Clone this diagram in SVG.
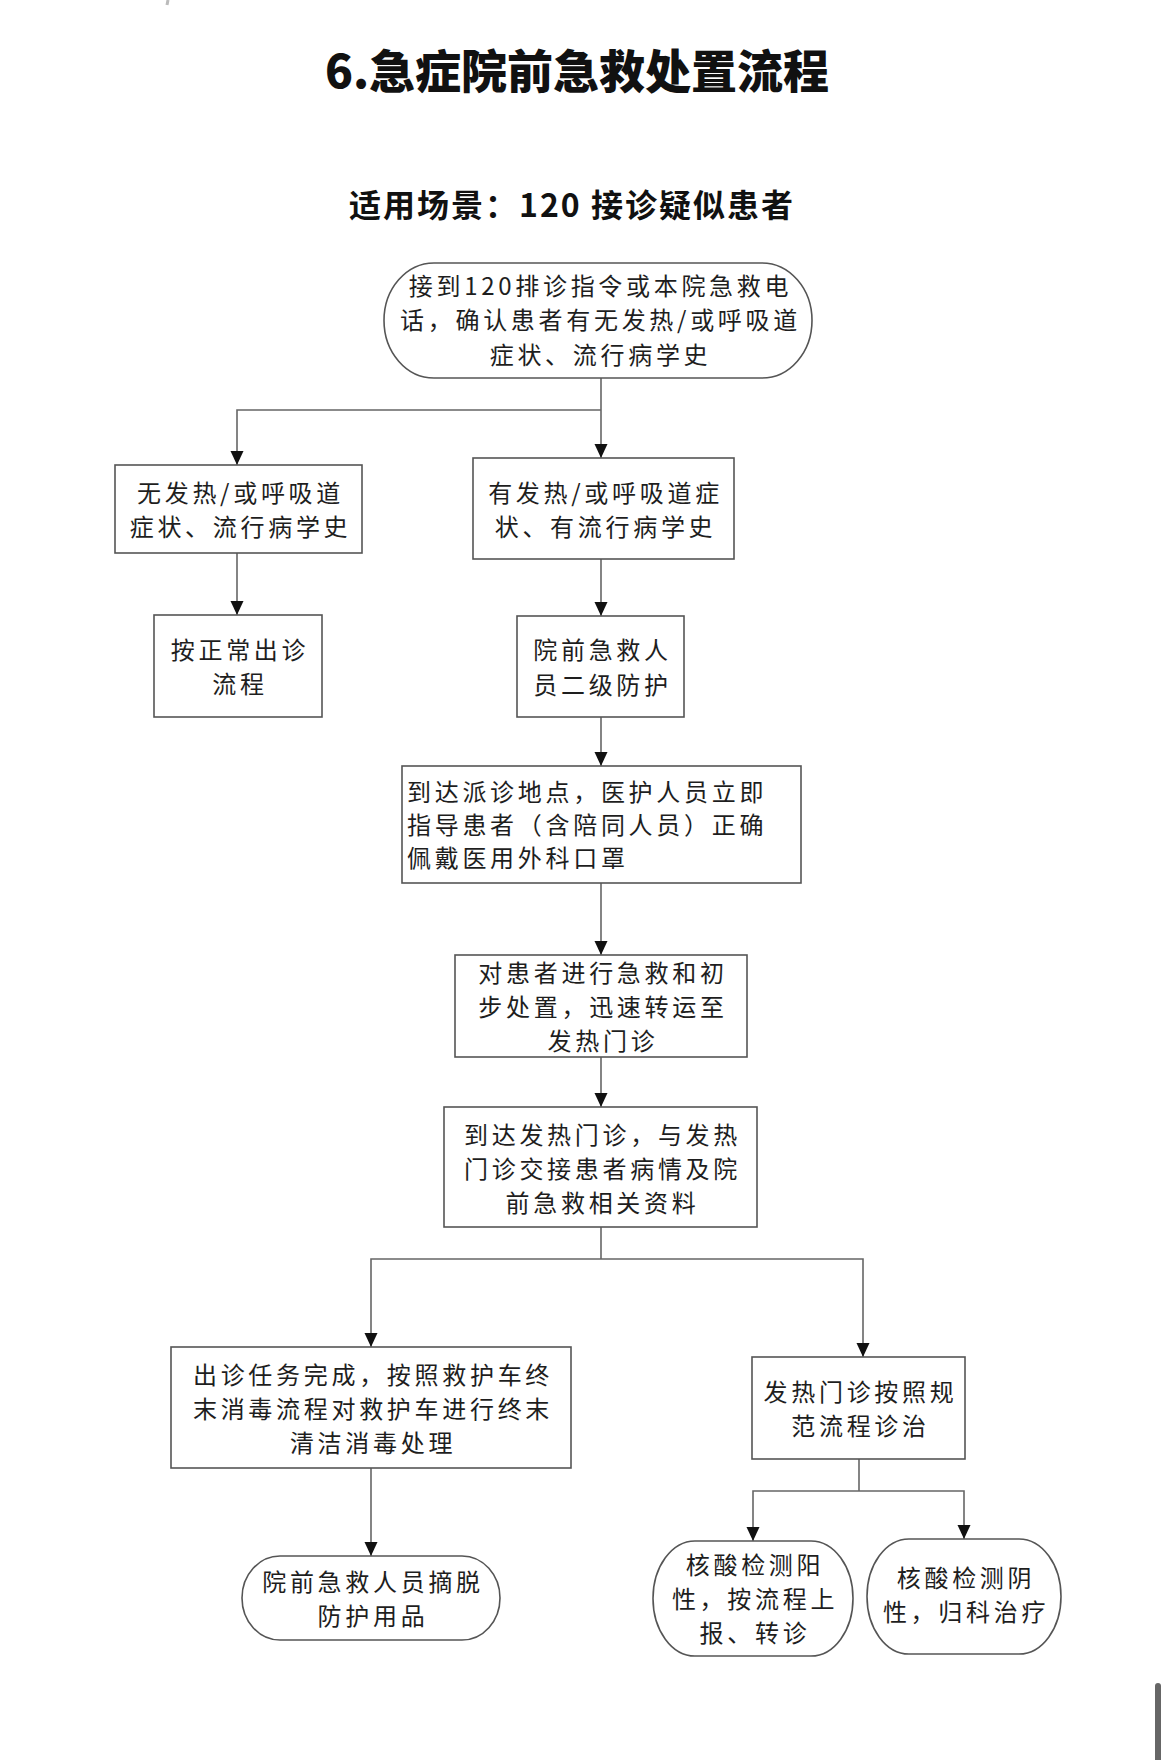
<svg xmlns="http://www.w3.org/2000/svg" width="1170" height="1760" viewBox="0 0 1170 1760">
<style>
.box{fill:#fff;stroke:#555;stroke-width:1.6}
.t{font-family:"Noto Sans CJK SC","Noto Sans",sans-serif;font-size:24px;fill:#1e1e1e;text-anchor:middle;letter-spacing:3.7px}
.tl{text-anchor:start}
.con{fill:none;stroke:#666;stroke-width:1.6}
.title{font-family:"Noto Sans CJK SC","Noto Sans",sans-serif;font-weight:900;font-size:46px;fill:#111;text-anchor:middle}
.sub{font-family:"Noto Sans CJK SC","Noto Sans",sans-serif;font-weight:700;font-size:32px;fill:#111;text-anchor:middle;letter-spacing:2px}
</style>
<defs>
<marker id="arr" markerUnits="userSpaceOnUse" markerWidth="14" markerHeight="14" refX="14" refY="6.5" orient="auto">
<path d="M0,0 L14,6.5 L0,13 z" fill="#111"/>
</marker>
</defs>
<rect width="1170" height="1760" fill="#fff"/>
<line x1="168" y1="0" x2="167" y2="5" stroke="#bbb" stroke-width="3"/>
<rect x="1155" y="1683" width="6" height="80" rx="3" fill="#666"/>

<text class="title" x="577" y="88">6.急症院前急救处置流程</text>
<text class="sub" x="572" y="217">适用场景：120 接诊疑似患者</text>

<g id="connectors">
<path class="con" d="M601,378 V458" marker-end="url(#arr)"/>
<path class="con" d="M601,410 H237 V465" marker-end="url(#arr)"/>
<path class="con" d="M237,553 V615" marker-end="url(#arr)"/>
<path class="con" d="M601,559 V616" marker-end="url(#arr)"/>
<path class="con" d="M601,717 V766" marker-end="url(#arr)"/>
<path class="con" d="M601,883 V955" marker-end="url(#arr)"/>
<path class="con" d="M601,1057 V1107" marker-end="url(#arr)"/>
<path class="con" d="M601,1227 V1259"/>
<path class="con" d="M601,1259 H371 V1347" marker-end="url(#arr)"/>
<path class="con" d="M601,1259 H863 V1357" marker-end="url(#arr)"/>
<path class="con" d="M371,1468 V1556" marker-end="url(#arr)"/>
<path class="con" d="M859,1459 V1491"/>
<path class="con" d="M859,1491 H753 V1541" marker-end="url(#arr)"/>
<path class="con" d="M859,1491 H964 V1539" marker-end="url(#arr)"/>
</g>

<g id="n1">
<rect class="box" x="384" y="263" width="428" height="115" rx="50" ry="57.5"/>
<text class="t" x="600.5" y="295">接到120排诊指令或本院急救电</text>
<text class="t" x="600.5" y="329">话，确认患者有无发热/或呼吸道</text>
<text class="t" x="600.5" y="364">症状、流行病学史</text>
</g>

<g id="n2">
<rect class="box" x="115" y="465" width="247" height="88"/>
<text class="t" x="240.5" y="502">无发热/或呼吸道</text>
<text class="t" x="240.5" y="536">症状、流行病学史</text>
</g>

<g id="n3">
<rect class="box" x="473" y="458" width="261" height="101"/>
<text class="t" x="605.5" y="502">有发热/或呼吸道症</text>
<text class="t" x="605.5" y="536">状、有流行病学史</text>
</g>

<g id="n4">
<rect class="box" x="154" y="615" width="168" height="102"/>
<text class="t" x="240" y="659">按正常出诊</text>
<text class="t" x="240" y="693">流程</text>
</g>

<g id="n5">
<rect class="box" x="517" y="616" width="167" height="101"/>
<text class="t" x="602.5" y="659">院前急救人</text>
<text class="t" x="602.5" y="694">员二级防护</text>
</g>

<g id="n6">
<rect class="box" x="402" y="766" width="399" height="117"/>
<text class="t tl" x="407" y="801">到达派诊地点，医护人员立即</text>
<text class="t tl" x="407" y="834">指导患者（含陪同人员）正确</text>
<text class="t tl" x="407" y="867">佩戴医用外科口罩</text>
</g>

<g id="n7">
<rect class="box" x="455" y="955" width="292" height="102"/>
<text class="t" x="603" y="982">对患者进行急救和初</text>
<text class="t" x="603" y="1016">步处置，迅速转运至</text>
<text class="t" x="603" y="1050">发热门诊</text>
</g>

<g id="n8">
<rect class="box" x="444" y="1107" width="313" height="120"/>
<text class="t" x="602.5" y="1144">到达发热门诊，与发热</text>
<text class="t" x="602.5" y="1178">门诊交接患者病情及院</text>
<text class="t" x="602.5" y="1212">前急救相关资料</text>
</g>

<g id="n9">
<rect class="box" x="171" y="1347" width="400" height="121"/>
<text class="t" x="373" y="1384">出诊任务完成，按照救护车终</text>
<text class="t" x="373" y="1418">末消毒流程对救护车进行终末</text>
<text class="t" x="373" y="1452">清洁消毒处理</text>
</g>

<g id="n10">
<rect class="box" x="752" y="1357" width="213" height="102"/>
<text class="t" x="860.5" y="1401">发热门诊按照规</text>
<text class="t" x="860.5" y="1435">范流程诊治</text>
</g>

<g id="n11">
<rect class="box" x="242" y="1556" width="258" height="84" rx="38" ry="42"/>
<text class="t" x="373" y="1591">院前急救人员摘脱</text>
<text class="t" x="373" y="1625">防护用品</text>
</g>

<g id="n12">
<rect class="box" x="653" y="1541" width="200" height="115" rx="42" ry="57.5"/>
<text class="t" x="755" y="1574">核酸检测阳</text>
<text class="t" x="755" y="1608">性，按流程上</text>
<text class="t" x="755" y="1642">报、转诊</text>
</g>

<g id="n13">
<rect class="box" x="867" y="1539" width="194" height="115" rx="42" ry="57.5"/>
<text class="t" x="966" y="1587">核酸检测阴</text>
<text class="t" x="966" y="1621">性，归科治疗</text>
</g>
</svg>
